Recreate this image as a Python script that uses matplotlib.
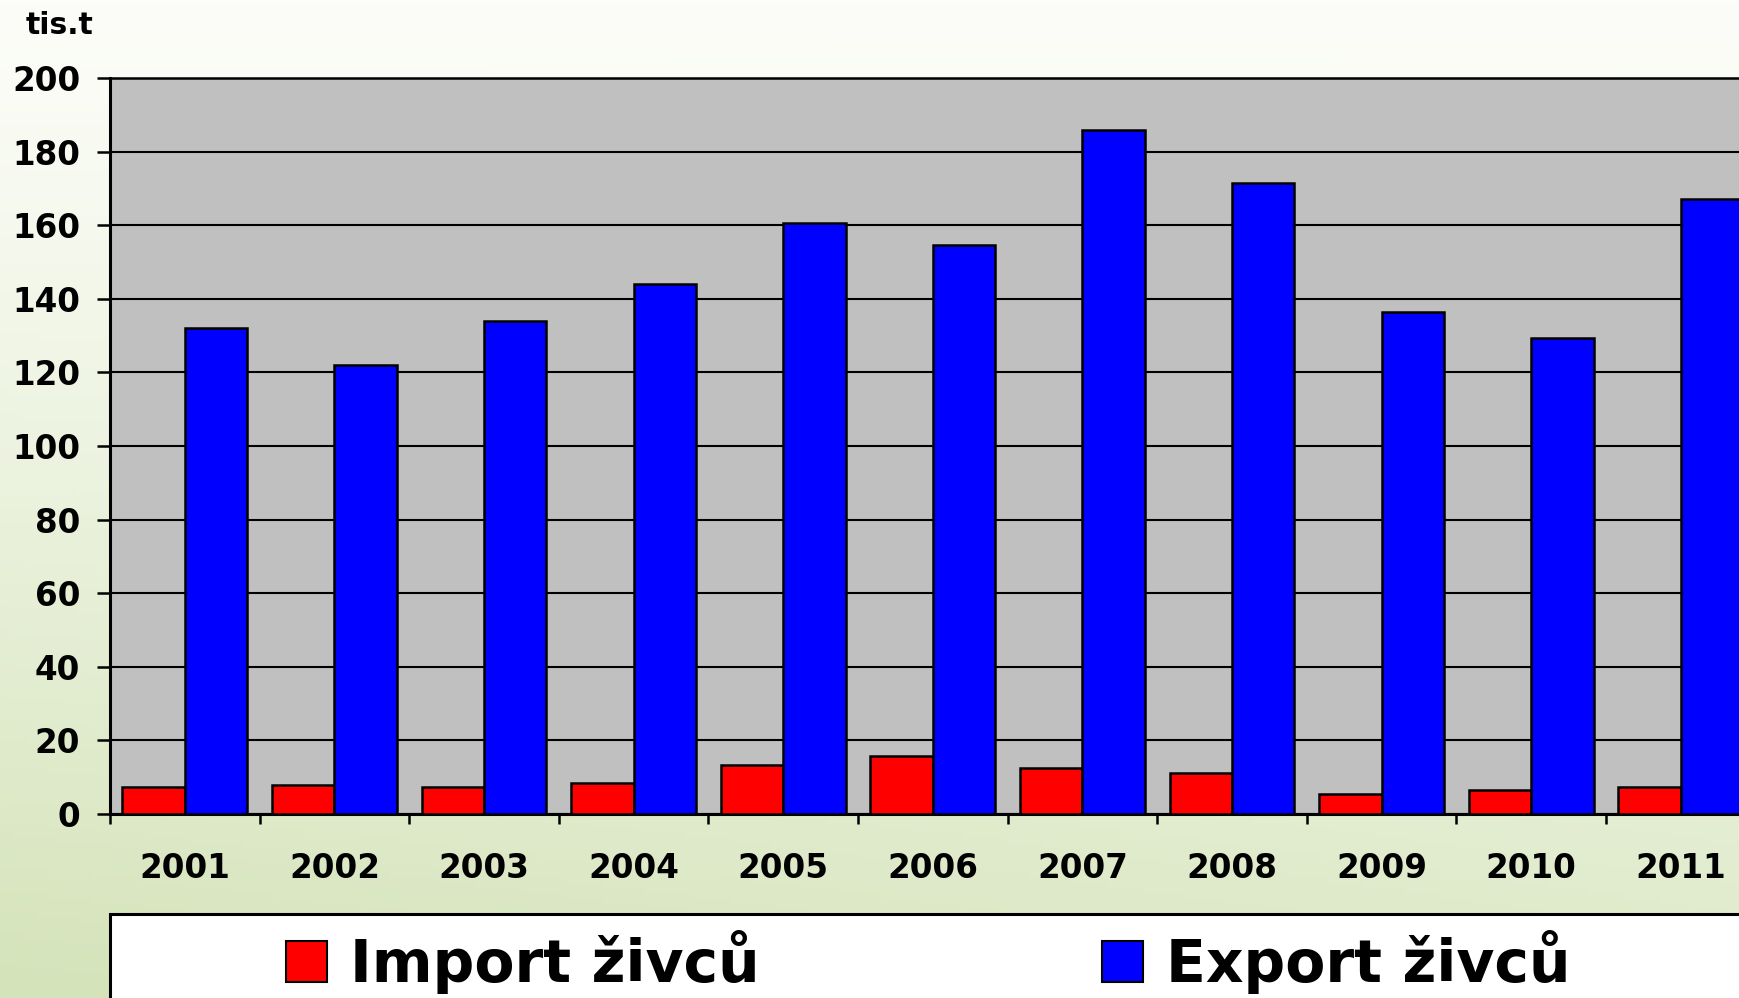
import numpy as np
import matplotlib
matplotlib.use("Agg")
import matplotlib.pyplot as plt
from matplotlib.patches import Rectangle, Patch

years = ["2001", "2002", "2003", "2004", "2005", "2006", "2007", "2008", "2009", "2010", "2011"]
import_vals = [7.3, 7.9, 7.3, 8.5, 13.2, 15.8, 12.5, 11.1, 5.3, 6.6, 7.3]
export_vals = [132, 122, 134, 144, 160.5, 154.5, 186, 171.5, 136.5, 129.3, 167]
y_ticks = [0, 20, 40, 60, 80, 100, 120, 140, 160, 180, 200]
series_names = ["Import živců", "Export živců"]
unit_label = "tis.t"

plt.rcParams['font.family'] = ['DejaVu Sans']
plt.rcParams['font.weight'] = 'bold'

W, H = 1740, 998
fig = plt.figure(figsize=(W / 100, H / 100), dpi=100)

# background gradient
bg = fig.add_axes([0, 0, 1, 1], zorder=-10)
ny, nx = 200, 300
yy, xx = np.mgrid[0:1:ny * 1j, 0:1:nx * 1j]
t = (yy ** 1.2) * (0.75 + 0.25 * (1 - xx))
top = np.array([252, 253, 248]) / 255
bot = np.array([212, 227, 185]) / 255
img = top[None, None, :] * (1 - t[..., None]) + bot[None, None, :] * t[..., None]
bg.imshow(img, aspect='auto', extent=[0, 1, 1, 0])
bg.set_axis_off()

ax = fig.add_axes([110 / W, 1 - 814 / H, 1645.6 / W, (814 - 78) / H])
ax.set_facecolor('#c0c0c0')
x = np.arange(len(years))
bw = 0.4167
ax.bar(x - bw / 2, import_vals, width=bw, color='#ff0000', edgecolor='black',
       linewidth=1.8, zorder=3, label=series_names[0])
ax.bar(x + bw / 2, export_vals, width=bw, color='#0000ff', edgecolor='black',
       linewidth=1.8, zorder=3, label=series_names[1])

ax.set_xlim(-0.5, len(years) - 0.5)
ax.set_ylim(0, 200)
ax.set_yticks(y_ticks)
ax.set_yticklabels([str(v) for v in y_ticks], fontsize=23.5, fontweight='bold')
ax.yaxis.grid(True, color='black', linewidth=1.5, zorder=1)
ax.set_axisbelow(True)
ax.set_xticks(x)
ax.set_xticklabels(years, fontsize=23.5, fontweight='bold')
ax.set_xticks(np.arange(len(years) + 1) - 0.5, minor=True)
ax.tick_params(axis='x', which='major', length=0, pad=27)
ax.tick_params(axis='x', which='minor', length=7, width=1.8, direction='out')
ax.tick_params(axis='y', which='major', length=9.5, width=1.8, direction='out', pad=12)
for s in ['left', 'bottom']:
    ax.spines[s].set_linewidth(2.2)
ax.spines['top'].set_linewidth(1.8)
ax.spines['right'].set_visible(False)

fig.text(26 / W, 1 - 26 / H, unit_label, fontsize=21.5, fontweight='bold',
         ha='left', va='center')

# legend box
fig.patches.append(Rectangle((110 / W, -0.05), 1.0, 1 - 914 / H + 0.05,
                             transform=fig.transFigure, facecolor='white',
                             edgecolor='black', linewidth=2.2, zorder=5))
colors = ['#ff0000', '#0000ff']
anchors = [286, 1102]
for name, col, ax_x in zip(series_names, colors, anchors):
    h = Patch(facecolor=col, edgecolor='black', linewidth=1.5)
    leg = fig.legend([h], [name], loc='center left',
                     bbox_to_anchor=(ax_x / W, 1 - 962 / H), frameon=False,
                     prop={'size': 42, 'weight': 'bold'}, handlelength=0.7,
                     handleheight=0.7, handletextpad=0.4,
                     borderpad=0, borderaxespad=0)
    leg.set_zorder(6)

fig.savefig("out.png", dpi=100)
